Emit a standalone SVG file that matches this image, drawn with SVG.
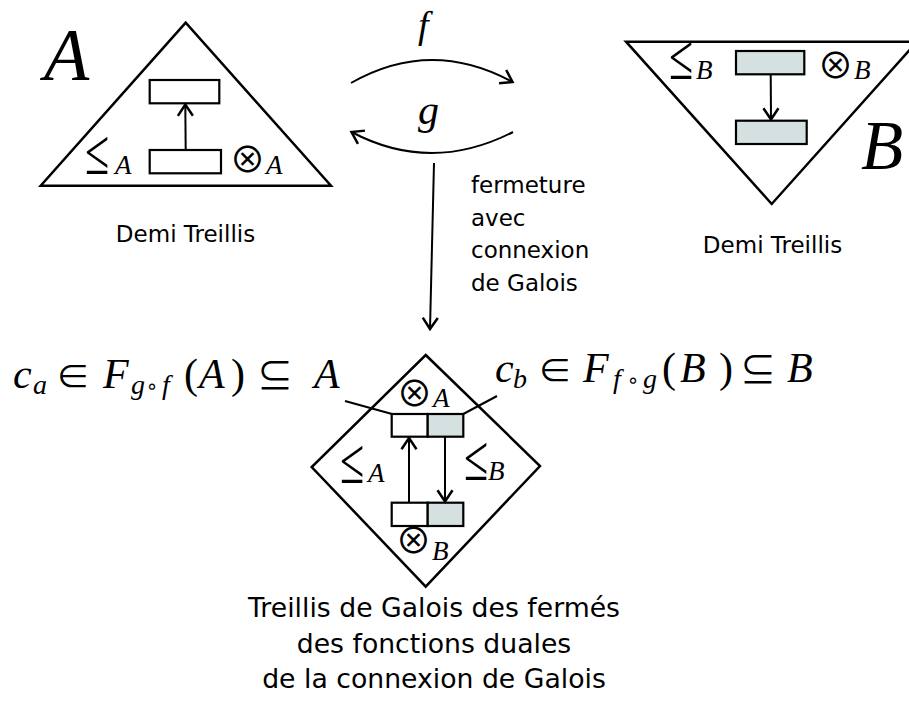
<svg xmlns="http://www.w3.org/2000/svg" width="909" height="702" viewBox="0 0 909 702">
<style>
.shape{fill:none;stroke:#000;stroke-width:2.5;stroke-linejoin:miter}
.box{fill:#fff;stroke:#000;stroke-width:2.2}
.gbox{fill:#d5e1e1;stroke:#000;stroke-width:2.2}
.ln{fill:none;stroke:#000;stroke-width:2}
.arr{fill:none;stroke:#000;stroke-width:2;marker-end:url(#ah)}
.sans{font-family:"DejaVu Sans",Verdana,sans-serif;fill:#000}
.m{font-family:"Liberation Serif","DejaVu Serif",serif;fill:#000}
.i{font-style:italic}
.op{font-family:"Noto Sans CJK JP","DejaVu Sans",sans-serif;fill:#000;text-anchor:middle}
.ot{font-family:"Noto Sans CJK JP","DejaVu Sans",sans-serif;fill:#000;text-anchor:middle;font-size:36px}
.le{font-family:"Liberation Serif","DejaVu Serif",serif;fill:#000;font-size:42px}
</style>
<defs>
<marker id="ah" markerUnits="userSpaceOnUse" markerWidth="20" markerHeight="20" refX="0" refY="0" viewBox="-12 -8 14 16" orient="auto">
<path d="M-9,-6 L0,0 L-9,6" fill="none" stroke="#000" stroke-width="2"/>
</marker>
</defs>

<g id="nodeA">
<polygon class="shape" points="185.7,22.7 40.7,185.7 331,185.7"/>
<text class="m i" x="44" y="80" font-size="74">A</text>
<rect class="box" x="149.7" y="80" width="69.6" height="23.3"/>
<rect class="box" x="149.7" y="150" width="71.3" height="23.3"/>
<text class="le" transform="translate(85,174) scale(1.05,1.55)">≤</text>
<text class="m i" x="115" y="174" font-size="27">A</text>
<text class="ot" x="247.5" y="172.7">⊗</text>
<text class="m i" x="266" y="174" font-size="27">A</text>
</g>

<g id="labelA">
<text class="sans" x="185.5" y="242.3" font-size="23" text-anchor="middle">Demi Treillis</text>
</g>

<g id="nodeB">
<polygon class="shape" points="626,41.7 917,41.7 771.7,204"/>
<text class="m i" x="861" y="169" font-size="69">B</text>
<rect class="gbox" x="736" y="51" width="68.3" height="23.3"/>
<rect class="gbox" x="736" y="120.7" width="70.7" height="23.3"/>
<text class="le" transform="translate(669,79) scale(1.05,1.55)">≤</text>
<text class="m i" x="696" y="79" font-size="27">B</text>
<text class="ot" x="835.5" y="79.4">⊗</text>
<text class="m i" x="854" y="79" font-size="27">B</text>
</g>

<g id="labelB">
<text class="sans" x="772.5" y="253.3" font-size="23" text-anchor="middle">Demi Treillis</text>
</g>

<g id="nodeC">
<polygon class="shape" points="425.7,355 540,466 425.7,586.7 311.7,467"/>
<rect class="box" x="391.7" y="414" width="36" height="22.7"/>
<rect class="gbox" x="427.7" y="414" width="35.6" height="22.7"/>
<rect class="box" x="391.7" y="502.7" width="36" height="23.3"/>
<rect class="gbox" x="427.7" y="502.7" width="35.6" height="23.3"/>
<text class="ot" x="414.5" y="407">⊗</text>
<text class="m i" x="433" y="406.7" font-size="27">A</text>
<text class="le" transform="translate(340,482.7) scale(1.05,1.55)">≤</text>
<text class="m i" x="368" y="482" font-size="27">A</text>
<text class="le" transform="translate(464,480) scale(1.05,1.55)">≤</text>
<text class="m i" x="488" y="480" font-size="27">B</text>
<text class="ot" x="413.5" y="553.7">⊗</text>
<text class="m i" x="432" y="560" font-size="27">B</text>
</g>

<g id="labelCa">
<text class="m i" x="13" y="388" font-size="42">c</text>
<text class="m i" x="33" y="394" font-size="28">a</text>
<text class="op" x="73" y="389" font-size="34">∈</text>
<text class="m i" x="103" y="388" font-size="42">F</text>
<text class="m i" x="131" y="394" font-size="28">g</text>
<text class="op" x="152" y="393" font-size="20">∘</text>
<text class="m i" x="162" y="394" font-size="28">f</text>
<text class="m" x="184" y="388" font-size="42">(</text>
<text class="m i" x="199" y="388" font-size="42">A</text>
<text class="m" x="231" y="388" font-size="42">)</text>
<text class="op" x="275" y="389" font-size="36">⊆</text>
<text class="m i" x="314" y="388" font-size="42">A</text>
</g>

<g id="labelCb">
<text class="m i" x="495" y="382" font-size="42">c</text>
<text class="m i" x="513" y="388" font-size="28">b</text>
<text class="op" x="555" y="383" font-size="34">∈</text>
<text class="m i" x="583" y="382" font-size="42">F</text>
<text class="m i" x="613" y="388" font-size="28">f</text>
<text class="op" x="633" y="387" font-size="20">∘</text>
<text class="m i" x="643" y="388" font-size="28">g</text>
<text class="m" x="662" y="382" font-size="42">(</text>
<text class="m i" x="680" y="382" font-size="42">B</text>
<text class="m" x="719" y="382" font-size="42">)</text>
<text class="op" x="758" y="383" font-size="36">⊆</text>
<text class="m i" x="787" y="382" font-size="42">B</text>
</g>

<g id="labelC">
<text class="sans" x="434" y="616.7" font-size="26.7" text-anchor="middle">Treillis de Galois des fermés</text>
<text class="sans" x="434" y="652.5" font-size="26.7" text-anchor="middle">des fonctions duales</text>
<text class="sans" x="434" y="688" font-size="26.7" text-anchor="middle">de la connexion de Galois</text>
</g>

<g id="labelClosure">
<text class="sans" x="471" y="193.3" font-size="23">fermeture</text>
<text class="sans" x="471" y="226" font-size="23">avec</text>
<text class="sans" x="471" y="258" font-size="23">connexion</text>
<text class="sans" x="471" y="291" font-size="23">de Galois</text>
</g>

<g id="labelFG">
<text class="m i" x="418" y="38" font-size="38">f</text>
<text class="m i" x="418" y="124" font-size="42">g</text>
</g>

<g id="connectors">
<path class="arr" d="M185.7,150 L185.3,104.5"/>
<path class="arr" d="M770.7,74.3 L771,119.5"/>
<path class="arr" d="M409,502.7 L409,438"/>
<path class="arr" d="M445,436.7 L445,501.5"/>
<path class="arr" d="M351,83 Q431,37.5 512.5,82"/>
<path class="arr" d="M513,132 Q431,174 351.5,132"/>
<path class="arr" d="M434,163 L430,329"/>
<path class="ln" d="M345,401 L392,414"/>
<path class="ln" d="M463.3,414 L497,396"/>
</g>
</svg>
